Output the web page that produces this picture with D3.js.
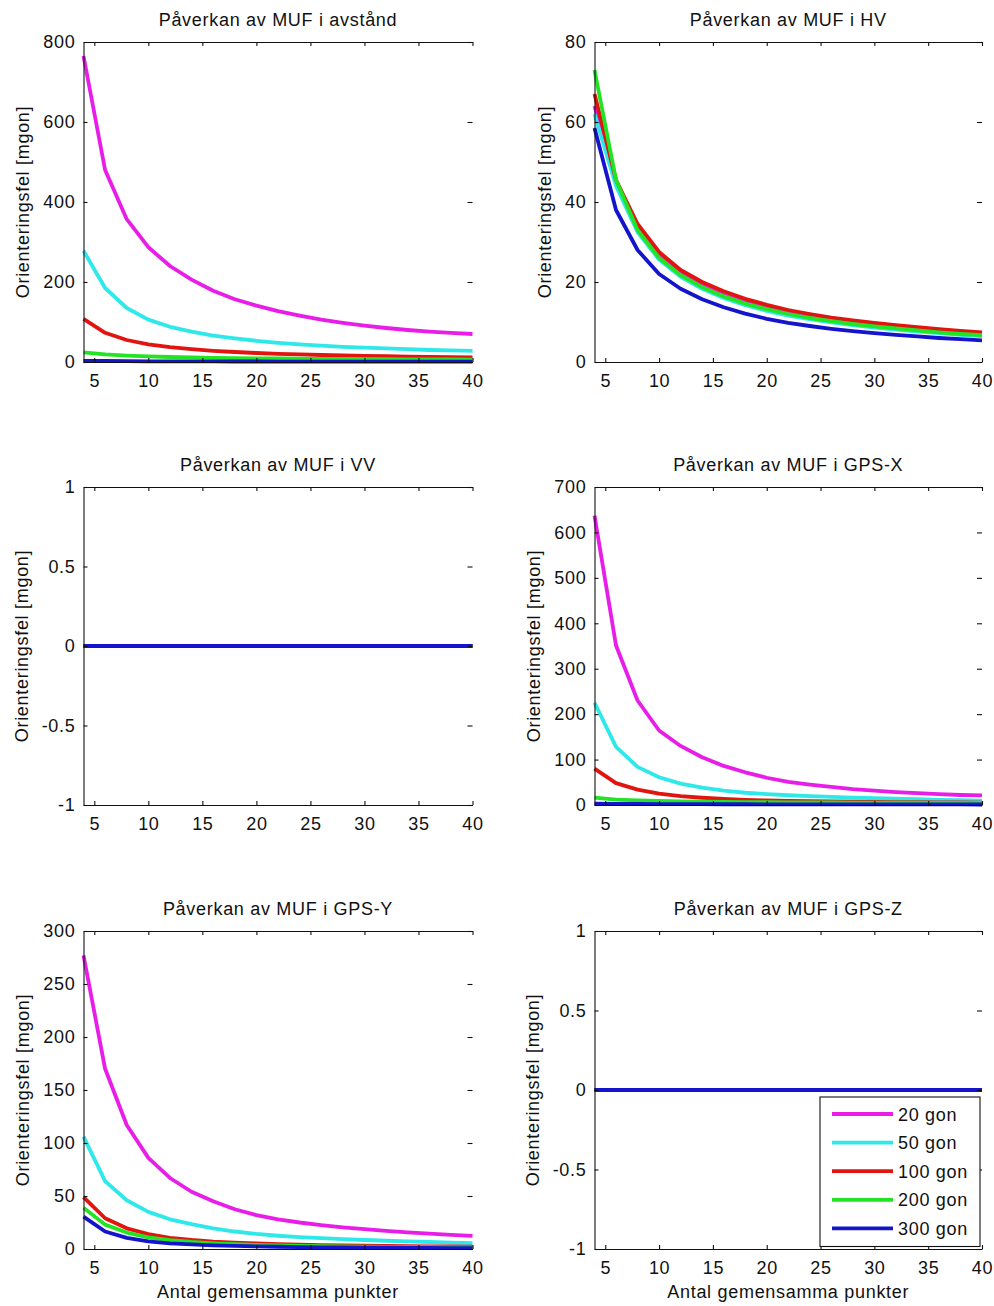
<!DOCTYPE html>
<html>
<head>
<meta charset="utf-8">
<script src="https://cdn.jsdelivr.net/npm/d3@7"></script>
<style>
  body { margin: 0; background: #fff; }
  svg text { font-family: "Liberation Sans", Arial, sans-serif; fill: #111; }
</style>
</head>
<body>
<svg id="fig" width="994" height="1306"></svg>
<script>
// Number of common points (x axis of every subplot)
const antalPunkter = [4, 6, 8, 10, 12, 14, 16, 18, 20, 22, 24, 26, 28, 30, 32, 34, 36, 38, 40];

// Series: orientation error for different angle spans
const vinklar = ["20 gon", "50 gon", "100 gon", "200 gon", "300 gon"];

// Påverkan av MUF i avstånd [mgon]
const avstand20  = [765, 480, 357, 287, 240, 206, 178, 157, 141, 127, 116, 106, 98, 91, 85, 80, 76, 73, 70];
const avstand50  = [278, 185, 135, 106, 88, 76, 66, 59, 53, 48, 44, 41, 38, 36, 34, 32, 30, 29, 28];
const avstand100 = [108, 73, 55, 44, 37, 32, 28, 25, 22.5, 20.5, 19, 17.5, 16.5, 15.5, 14.5, 13.5, 12.8, 12, 11.5];
const avstand200 = [24, 19, 16, 14, 12.5, 11.5, 10.5, 9.8, 9.2, 8.7, 8.2, 7.8, 7.5, 7.2, 6.9, 6.6, 6.4, 6.2, 6];
const avstand300 = [3, 2.5, 2, 1.8, 1.6, 1.5, 1.4, 1.3, 1.2, 1.1, 1, 1, 0.9, 0.9, 0.8, 0.8, 0.8, 0.7, 0.7];

// Påverkan av MUF i HV [mgon]
const hv20  = [64, 45, 34, 27, 22.6, 19.6, 17.3, 15.4, 13.9, 12.7, 11.7, 10.8, 10.1, 9.5, 8.9, 8.4, 8.0, 7.6, 7.2];
const hv50  = [62, 44, 32.5, 25.6, 21.3, 18.3, 16, 14.2, 12.8, 11.6, 10.7, 9.9, 9.2, 8.6, 8.1, 7.6, 7.2, 6.8, 6.5];
const hv100 = [67, 45.5, 34.5, 27.5, 23, 20, 17.7, 15.8, 14.3, 13, 12, 11.1, 10.4, 9.8, 9.2, 8.7, 8.2, 7.8, 7.4];
const hv200 = [73, 45.5, 33, 26, 21.7, 18.7, 16.4, 14.6, 13.2, 12, 11, 10.2, 9.5, 8.9, 8.4, 7.9, 7.4, 7.0, 6.7];
const hv300 = [58.5, 38, 28, 22, 18.3, 15.7, 13.7, 12.1, 10.8, 9.8, 9, 8.3, 7.7, 7.2, 6.8, 6.4, 6.0, 5.7, 5.4];

// Påverkan av MUF i VV [mgon]
const vv20  = [0, 0, 0, 0, 0, 0, 0, 0, 0, 0, 0, 0, 0, 0, 0, 0, 0, 0, 0];
const vv50  = [0, 0, 0, 0, 0, 0, 0, 0, 0, 0, 0, 0, 0, 0, 0, 0, 0, 0, 0];
const vv100 = [0, 0, 0, 0, 0, 0, 0, 0, 0, 0, 0, 0, 0, 0, 0, 0, 0, 0, 0];
const vv200 = [0, 0, 0, 0, 0, 0, 0, 0, 0, 0, 0, 0, 0, 0, 0, 0, 0, 0, 0];
const vv300 = [0, 0, 0, 0, 0, 0, 0, 0, 0, 0, 0, 0, 0, 0, 0, 0, 0, 0, 0];

// Påverkan av MUF i GPS-X [mgon]
const gpsX20  = [637, 351, 230, 164, 130, 105, 86, 72, 60, 51, 45, 40, 35, 31.5, 28.5, 26, 24, 22, 21];
const gpsX50  = [225, 128, 84, 61, 47, 38, 31.5, 27, 24, 21.5, 19.5, 17.7, 16.2, 15, 13.8, 12.7, 11.5, 10.5, 9.5];
const gpsX100 = [80, 48, 34, 25, 19.5, 16, 13.5, 11.5, 10, 9, 8.3, 7.7, 7.2, 6.8, 6.4, 6.1, 5.8, 5.5, 5.3];
const gpsX200 = [16, 12, 10, 8.8, 8, 7.4, 6.9, 6.5, 6.2, 5.9, 5.7, 5.5, 5.3, 5.1, 5, 4.9, 4.8, 4.7, 4.6];
const gpsX300 = [3, 2.5, 2.2, 2, 1.9, 1.8, 1.7, 1.6, 1.5, 1.5, 1.4, 1.4, 1.3, 1.3, 1.3, 1.2, 1.2, 1.2, 1.1];

// Påverkan av MUF i GPS-Y [mgon]
const gpsY20  = [277, 170, 117, 86, 67, 54, 45, 37.5, 32, 28, 25, 22.5, 20.5, 18.7, 17, 15.7, 14.5, 13.3, 12.3];
const gpsY50  = [106, 64, 46, 35, 28, 23.5, 19.5, 16.5, 14.2, 12.5, 11.2, 10.2, 9.3, 8.5, 7.8, 7.2, 6.6, 6, 5.5];
const gpsY100 = [49, 29, 19.5, 14, 10.5, 8.5, 7, 6, 5.2, 4.6, 4.1, 3.7, 3.4, 3.1, 2.9, 2.7, 2.5, 2.4, 2.3];
const gpsY200 = [39, 23, 15.5, 11, 8.3, 6.6, 5.4, 4.6, 3.9, 3.4, 3, 2.7, 2.4, 2.2, 2, 1.8, 1.7, 1.5, 1.4];
const gpsY300 = [30.5, 16.5, 10.5, 7.2, 5.4, 4.3, 3.5, 2.9, 2.4, 2.1, 1.8, 1.6, 1.4, 1.3, 1.2, 1.1, 1, 0.9, 0.8];

// Påverkan av MUF i GPS-Z [mgon]
const gpsZ20  = [0, 0, 0, 0, 0, 0, 0, 0, 0, 0, 0, 0, 0, 0, 0, 0, 0, 0, 0];
const gpsZ50  = [0, 0, 0, 0, 0, 0, 0, 0, 0, 0, 0, 0, 0, 0, 0, 0, 0, 0, 0];
const gpsZ100 = [0, 0, 0, 0, 0, 0, 0, 0, 0, 0, 0, 0, 0, 0, 0, 0, 0, 0, 0];
const gpsZ200 = [0, 0, 0, 0, 0, 0, 0, 0, 0, 0, 0, 0, 0, 0, 0, 0, 0, 0, 0];
const gpsZ300 = [0, 0, 0, 0, 0, 0, 0, 0, 0, 0, 0, 0, 0, 0, 0, 0, 0, 0, 0];

// Tick labels
const xTicks = [5, 10, 15, 20, 25, 30, 35, 40];
const yTicksAvstand = [0, 200, 400, 600, 800];
const yTicksHV = [0, 20, 40, 60, 80];
const yTicksNoll = [-1, -0.5, 0, 0.5, 1];
const yTicksGpsX = [0, 100, 200, 300, 400, 500, 600, 700];
const yTicksGpsY = [0, 50, 100, 150, 200, 250, 300];

const titles = [
  "Påverkan av MUF i avstånd", "Påverkan av MUF i HV",
  "Påverkan av MUF i VV", "Påverkan av MUF i GPS-X",
  "Påverkan av MUF i GPS-Y", "Påverkan av MUF i GPS-Z"
];
const yLabel = "Orienteringsfel [mgon]";
const xLabel = "Antal gemensamma punkter";

// MATLAB-style line colours m, c, r, g, b
const lineColors = ["#e81ee8", "#2ee8ea", "#e2140f", "#22e422", "#1414cc"];

// Subplot layout (pixel boxes)
const colLeft = [83.5, 594.5], colRight = [472.5, 982];
const rowTop = [42, 487, 931], rowBottom = [362, 805, 1249];

const panels = [
  { title: titles[0], ticks: yTicksAvstand, series: [avstand20, avstand50, avstand100, avstand200, avstand300], row: 0, col: 0 },
  { title: titles[1], ticks: yTicksHV,      series: [hv20, hv50, hv100, hv200, hv300],                          row: 0, col: 1 },
  { title: titles[2], ticks: yTicksNoll,    series: [vv20, vv50, vv100, vv200, vv300],                          row: 1, col: 0 },
  { title: titles[3], ticks: yTicksGpsX,    series: [gpsX20, gpsX50, gpsX100, gpsX200, gpsX300],                row: 1, col: 1 },
  { title: titles[4], ticks: yTicksGpsY,    series: [gpsY20, gpsY50, gpsY100, gpsY200, gpsY300],                row: 2, col: 0, xlabel: true },
  { title: titles[5], ticks: yTicksNoll,    series: [gpsZ20, gpsZ50, gpsZ100, gpsZ200, gpsZ300],                row: 2, col: 1, xlabel: true, legend: true }
];

const svg = d3.select("#fig");
const FONT = 18, SPACING = "0.7px";
const fmt = v => String(v);

panels.forEach(p => {
  const L = colLeft[p.col], R = colRight[p.col];
  const T = rowTop[p.row], B = rowBottom[p.row];
  const x = d3.scaleLinear().domain([4, 40]).range([L, R]);
  const y = d3.scaleLinear().domain(d3.extent(p.ticks)).range([B, T]);
  const g = svg.append("g");

  // curves, drawn in legend order so 300 gon ends up on top
  const line = d3.line().x((d, i) => x(antalPunkter[i])).y(d => y(d));
  p.series.forEach((s, k) => {
    g.append("path").datum(s)
      .attr("d", line)
      .attr("fill", "none")
      .attr("stroke", lineColors[k])
      .attr("stroke-width", 3.8)
      .attr("stroke-linejoin", "round");
  });

  // bottom axis with labels, ticks pointing inward
  const ax = g.append("g").attr("transform", `translate(0,${B})`)
    .call(d3.axisBottom(x).tickValues(xTicks).tickFormat(fmt)
      .tickSizeInner(-4).tickSizeOuter(0).tickPadding(12));
  // top axis: line + inward ticks only
  const at = g.append("g").attr("transform", `translate(0,${T})`)
    .call(d3.axisTop(x).tickValues(xTicks).tickFormat("")
      .tickSizeInner(-4).tickSizeOuter(0));
  // left axis with labels
  const ay = g.append("g").attr("transform", `translate(${L},0)`)
    .call(d3.axisLeft(y).tickValues(p.ticks).tickFormat(fmt)
      .tickSizeInner(-4).tickSizeOuter(0).tickPadding(8));
  // right side: inward tick marks only
  const ar = g.append("g").attr("transform", `translate(${R},0)`)
    .call(d3.axisRight(y).tickValues(p.ticks).tickFormat("")
      .tickSizeInner(-5).tickSizeOuter(0));
  ar.select(".domain").remove();

  [ax, at, ay, ar].forEach(a => {
    a.selectAll("path, line").attr("stroke", "#111").attr("stroke-width", 1.1);
    a.selectAll("text")
      .attr("font-size", FONT).attr("letter-spacing", SPACING)
      .attr("font-family", null).attr("fill", "#111");
  });

  // title
  g.append("text")
    .attr("x", (L + R) / 2).attr("y", T - 16.5)
    .attr("text-anchor", "middle")
    .attr("font-size", FONT).attr("letter-spacing", SPACING)
    .text(p.title);

  // y label, placed left of the widest tick label
  const tickLeft = d3.min(ay.selectAll("text").nodes(), n => n.getBBox().x) + L;
  g.append("text")
    .attr("transform", `translate(${tickLeft - 14},${(T + B) / 2}) rotate(-90)`)
    .attr("text-anchor", "middle")
    .attr("font-size", FONT).attr("letter-spacing", SPACING)
    .text(yLabel);

  if (p.xlabel) {
    g.append("text")
      .attr("x", (L + R) / 2).attr("y", B + 48.5)
      .attr("text-anchor", "middle")
      .attr("font-size", FONT).attr("letter-spacing", SPACING)
      .text(xLabel);
  }

  if (p.legend) {
    const lg = g.append("g").attr("transform", `translate(${R - 162},${B - 152})`);
    lg.append("rect").attr("width", 160).attr("height", 149.5)
      .attr("fill", "#fff").attr("stroke", "#111").attr("stroke-width", 1.1);
    vinklar.forEach((name, k) => {
      const yy = 17 + k * 28.6;
      lg.append("line").attr("x1", 12).attr("x2", 73).attr("y1", yy).attr("y2", yy)
        .attr("stroke", lineColors[k]).attr("stroke-width", 3.8);
      lg.append("text").attr("x", 78).attr("y", yy + 6.5)
        .attr("font-size", FONT).attr("letter-spacing", SPACING)
        .text(name);
    });
  }
});
</script>
</body>
</html>
